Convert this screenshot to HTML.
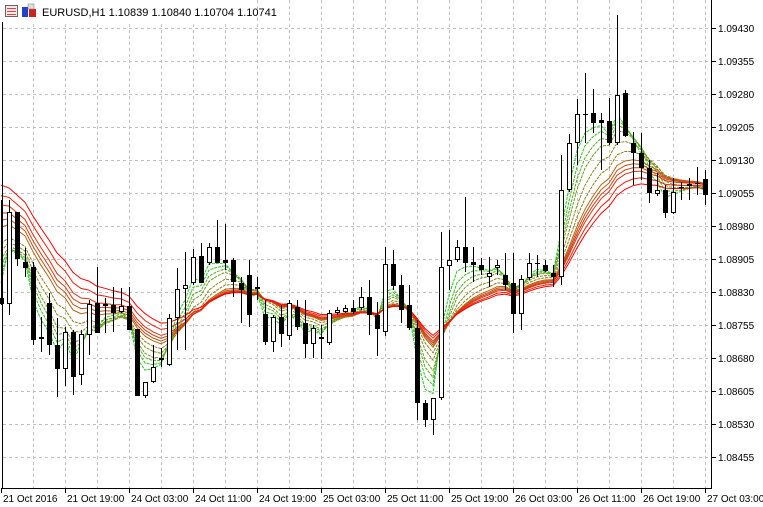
<!DOCTYPE html>
<html><head><meta charset="utf-8"><style>
body{margin:0;background:#fff;width:763px;height:507px;overflow:hidden}
svg{display:block;font-family:"Liberation Sans",sans-serif}
</style></head><body>
<svg id="c" width="763" height="507" xmlns="http://www.w3.org/2000/svg"></svg>
<script>
var s='';
for(var x=33;x<711;x+=32)s+='<line x1="'+(x+.5)+'" y1="0" x2="'+(x+.5)+'" y2="488" stroke="#c0c0c0" stroke-dasharray="3,3"/>';
var labels=["1.09430","1.09355","1.09280","1.09205","1.09130","1.09055","1.08980","1.08905","1.08830","1.08755","1.08680","1.08605","1.08530","1.08455"];
for(var k=0;k<14;k++){var y=28+33*k;s+='<line x1="3" y1="'+(y+.5)+'" x2="711" y2="'+(y+.5)+'" stroke="#c0c0c0" stroke-dasharray="3,3"/>';
s+='<line x1="711" y1="'+(y+.5)+'" x2="716" y2="'+(y+.5)+'" stroke="#000"/>';
s+='<text x="718" y="'+(y+4)+'" font-size="10">'+labels[k]+'</text>';}
var tx=[1,65,129,193,257,321,385,449,513,577,641,705];
var tls=["21 Oct 2016","21 Oct 19:00","24 Oct 03:00","24 Oct 11:00","24 Oct 19:00","25 Oct 03:00","25 Oct 11:00","25 Oct 19:00","26 Oct 03:00","26 Oct 11:00","26 Oct 19:00","27 Oct 03:00"];
for(var k=0;k<12;k++){s+='<line x1="'+(tx[k]+.5)+'" y1="488" x2="'+(tx[k]+.5)+'" y2="493" stroke="#000"/>';
s+='<text x="'+(tx[k]+2)+'" y="502" font-size="10">'+tls[k]+'</text>';}
var C=[[298,200,305,304],[304,200,315,212],[212,212,266,259],[262,248,277,268],[267,262,345,340],[337,317,352,339],[303,293,355,345],[345,318,397,369],[369,327,386,332],[332,330,395,377],[375,330,385,334],[335,300,355,304],[303,267,333,333],[304,298,333,306],[305,287,332,313],[312,288,313,306],[306,287,330,330],[329,329,396,396],[396,382,398,382],[382,345,383,367],[358,348,367,360],[365,314,366,318],[318,268,350,289],[289,252,350,285],[283,249,285,257],[256,243,283,283],[263,243,265,247],[247,220,263,263],[260,224,270,263],[260,258,297,282],[283,277,323,290],[275,260,327,315],[287,277,300,289],[314,300,345,342],[342,315,352,317],[317,305,347,334],[336,300,340,303],[307,300,330,327],[323,300,358,344],[344,325,358,328],[337,325,359,339],[343,310,345,313],[313,307,315,310],[312,305,313,308],[308,300,314,312],[308,287,310,297],[297,280,335,315],[315,302,356,329],[332,247,336,264],[264,250,290,286],[285,275,323,310],[305,285,330,328],[328,320,420,403],[403,400,427,420],[420,398,435,398],[398,232,400,267],[266,230,290,260],[260,240,262,247],[247,197,272,263],[262,247,282,265],[265,258,275,270],[277,257,287,273],[268,260,275,265],[275,253,290,285],[283,253,333,314],[314,275,330,279],[278,253,280,263],[263,255,277,264],[265,260,272,271],[273,265,287,277],[277,155,285,190],[190,134,192,143],[143,99,165,114],[114,73,143,115],[113,89,133,123],[120,113,170,123],[121,98,145,143],[143,15,145,95],[93,90,137,136],[143,132,185,153],[153,133,180,168],[168,160,203,193],[194,173,196,190],[190,185,218,213],[213,178,214,192],[187,182,200,188],[184,178,200,186],[183,167,195,184],[179,170,205,195]];
var P=[3,4,5,6,8,10,12,13,14,15,17,19],I=[262,255,248,242,236,230,213,206,199,191,182,172];
var col=['#22cc22','#3bbb22','#55aa22','#6c9a1e','#7f8a1a','#8f7a16','#b06414','#c05212','#d04010','#e0300c','#ee1e08','#ff0000'];
for(var j=0;j<12;j++){var e=I[j],a=2/(P[j]+1),pts=[];for(var i=0;i<C.length;i++){e=e+a*(C[i][3]-e);pts.push((1+8*i)+','+e.toFixed(1));}
s+='<polyline points="'+pts.join(' ')+'" fill="none" stroke="'+col[j]+'" stroke-width="1"'+(j<6?' stroke-dasharray="3,1"':'')+'/>';}
for(var i=0;i<C.length;i++){var x=1+8*i,c=C[i],t=Math.min(c[0],c[3]),b=Math.max(c[0],c[3]);
s+='<line x1="'+(x+.5)+'" y1="'+c[1]+'" x2="'+(x+.5)+'" y2="'+c[2]+'" stroke="#000"/>';
var h=Math.max(b-t,1);
if(c[3]>c[0])s+='<rect x="'+(x-2)+'" y="'+t+'" width="5" height="'+h+'" fill="#000"/>';
else s+='<rect x="'+(x-1.5)+'" y="'+(t+.5)+'" width="4" height="'+Math.max(h-1,0)+'" fill="#fff" stroke="#000"/>';}
s+='<line x1="2.5" y1="0" x2="2.5" y2="488" stroke="#000"/><line x1="711.5" y1="0" x2="711.5" y2="488" stroke="#000"/><line x1="2" y1="488.5" x2="712" y2="488.5" stroke="#000"/>';
s+='<rect x="0" y="0" width="250" height="22" fill="#fff"/>';
s+='<rect x="5.5" y="5.5" width="12" height="11" fill="#f4e8e8" stroke="#666"/><line x1="7" y1="8.5" x2="16" y2="8.5" stroke="#d44"/><line x1="7" y1="11.5" x2="16" y2="11.5" stroke="#d44"/><line x1="7" y1="14.5" x2="16" y2="14.5" stroke="#d44"/>';
s+='<rect x="22" y="7" width="6" height="10" fill="#2244cc"/><rect x="29" y="9" width="7" height="8" fill="#cc2222"/><rect x="28" y="4" width="6" height="5" fill="#ddd" stroke="#777" stroke-width=".5"/>';
s+='<text x="42" y="16" font-size="11">EURUSD,H1  1.10839 1.10840 1.10704 1.10741</text>';
document.getElementById('c').innerHTML=s;
</script>
</body></html>
